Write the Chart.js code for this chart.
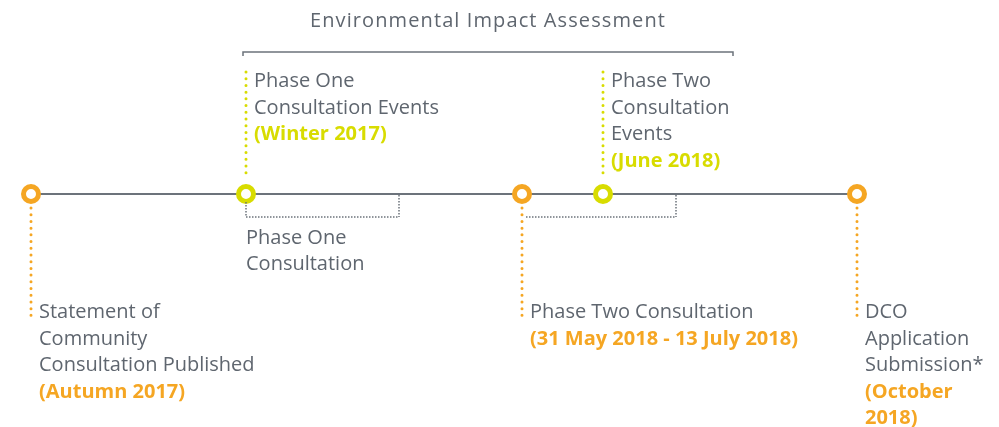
<!DOCTYPE html>
<html>
<head>
<meta charset="utf-8">
<script src="https://cdn.jsdelivr.net/npm/chart.js@4.4.1/dist/chart.umd.min.js"></script>
<style>
  html, body { margin: 0; padding: 0; background: #fff; }
  #wrap { width: 999px; height: 427px; }
</style>
</head>
<body>
<div id="wrap"><canvas id="timeline" width="999" height="427"></canvas></div>
<script>
// Milestones along the timeline (position in timeline units, 0-100)
const milestoneLabels = [
    ['Statement of', 'Community', 'Consultation Published'],
    ['Phase One', 'Consultation Events'],
    ['Phase Two Consultation'],
    ['Phase Two', 'Consultation', 'Events'],
    ['DCO', 'Application', 'Submission*']
];
const milestoneDates = [
    ['(Autumn 2017)'],
    ['(Winter 2017)'],
    ['(31 May 2018 - 13 July 2018)'],
    ['(June 2018)'],
    ['(October', '2018)']
];
const milestoneKinds = ['milestone', 'event', 'milestone', 'event', 'milestone'];
const milestonePos = [3.1, 24.6, 52.2, 60.3, 85.7];

// Consultation periods (dotted brackets under the line)
const periodLabels = [['Phase One', 'Consultation'], []];
const periodStart = [24.6, 52.2];
const periodEnd = [39.9, 67.6];

// Environmental Impact Assessment span (bracket above)
const eiaTitle = 'Environmental Impact Assessment';
const eiaStart = 24.3;
const eiaEnd = 73.3;

const ORANGE = '#f5a623';
const YELLOW = '#d8dc00';
const GREY = '#5f666f';
const LINE = '#6c737b';
const FONT = '"Open Sans", sans-serif';
const kindColor = k => k === 'event' ? YELLOW : ORANGE;

function dotted(ctx, x1, y1, x2, y2, color, width, dash, cap) {
    ctx.save();
    ctx.strokeStyle = color;
    ctx.lineWidth = width;
    ctx.lineCap = cap || 'butt';
    ctx.setLineDash(dash);
    ctx.beginPath();
    ctx.moveTo(x1, y1);
    ctx.lineTo(x2, y2);
    ctx.stroke();
    ctx.restore();
}

function textLines(ctx, lines, x, y, color, bold, lh) {
    ctx.fillStyle = color;
    ctx.font = (bold ? '700 ' : '400 ') + '20px ' + FONT;
    lines.forEach((t, i) => ctx.fillText(t, x, y + i * lh));
    return y + lines.length * lh;
}

const annotations = {
    id: 'annotations',
    afterDatasetsDraw(chart) {
        const ctx = chart.ctx;
        const xs = chart.scales.x, ys = chart.scales.y;
        const y0 = ys.getPixelForValue(0);
        const lh = 26.5;
        ctx.save();
        ctx.textBaseline = 'middle';
        ctx.textAlign = 'left';

        // EIA bracket + title
        const ex1 = xs.getPixelForValue(eiaStart), ex2 = xs.getPixelForValue(eiaEnd);
        const ey = y0 - 142;
        ctx.strokeStyle = LINE;
        ctx.lineWidth = 1.5;
        ctx.beginPath();
        ctx.moveTo(ex1, ey + 4); ctx.lineTo(ex1, ey); ctx.lineTo(ex2, ey); ctx.lineTo(ex2, ey + 4);
        ctx.stroke();
        ctx.fillStyle = GREY;
        ctx.font = '400 20px ' + FONT;
        ctx.letterSpacing = '1.1px';
        ctx.textAlign = 'center';
        ctx.fillText(eiaTitle, (ex1 + ex2) / 2, y0 - 173);
        ctx.letterSpacing = '0px';
        ctx.textAlign = 'left';

        // consultation period brackets
        periodStart.forEach((s, i) => {
            const x1 = xs.getPixelForValue(s), x2 = xs.getPixelForValue(periodEnd[i]);
            const by = y0 + 23;
            const left = i === 0 ? x1 : x1 + 4;
            if (i === 0) dotted(ctx, x1, y0 + 8, x1, by, LINE, 1.5, [1.5, 1.5]);
            dotted(ctx, left, by, x2, by, LINE, 1.5, [1.5, 1.5]);
            dotted(ctx, x2, y0 + 1, x2, by, LINE, 1.5, [1.5, 1.5]);
            if (periodLabels[i].length) textLines(ctx, periodLabels[i], x1, y0 + 44, GREY, false, lh);
        });

        // milestone connectors and labels
        milestonePos.forEach((p, i) => {
            const x = xs.getPixelForValue(p);
            const c = kindColor(milestoneKinds[i]);
            if (milestoneKinds[i] === 'event') {
                dotted(ctx, x, y0 - 122, x, y0 - 15, c, 3, [0.01, 6.7], 'round');
                const ny = textLines(ctx, milestoneLabels[i], x + 8, y0 - 112.5, GREY, false, lh);
                textLines(ctx, milestoneDates[i], x + 8, ny, c, true, lh);
            } else {
                dotted(ctx, x, y0 + 14, x, y0 + 123, c, 3, [0.01, 6.7], 'round');
                const ny = textLines(ctx, milestoneLabels[i], x + 8, y0 + 118.5, GREY, false, lh);
                textLines(ctx, milestoneDates[i], x + 8, ny, c, true, lh);
            }
        });
        ctx.restore();
    }
};

new Chart(document.getElementById('timeline'), {
    type: 'scatter',
    data: {
        datasets: [{
            data: milestonePos.map(p => ({ x: p, y: 0 })),
            showLine: true,
            borderColor: LINE,
            borderWidth: 2,
            pointRadius: 7.5,
            pointHoverRadius: 7.5,
            pointBorderWidth: 5,
            pointBackgroundColor: '#fff',
            pointBorderColor: milestoneKinds.map(kindColor),
            clip: false
        }]
    },
    options: {
        responsive: false,
        animation: false,
        layout: { padding: 0, autoPadding: false },
        plugins: { legend: { display: false }, tooltip: { enabled: false } },
        scales: {
            x: { type: 'linear', min: 0, max: 99.9, display: false },
            y: { type: 'linear', min: -233, max: 194, display: false }
        }
    },
    plugins: [annotations]
});
</script>
</body>
</html>
